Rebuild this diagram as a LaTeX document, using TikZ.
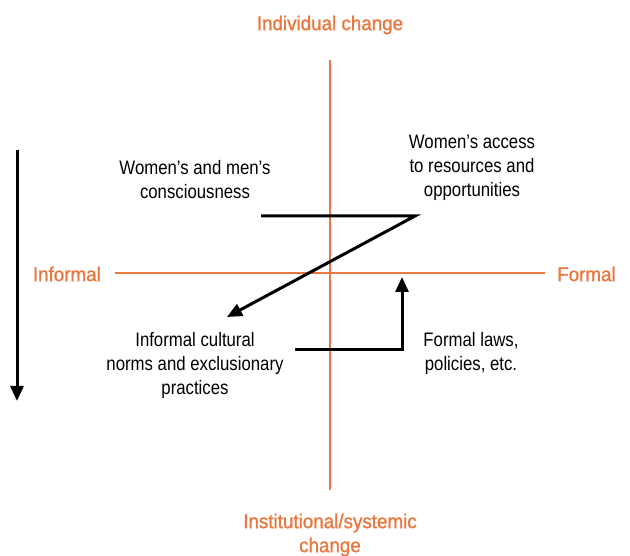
\documentclass[tikz,border=0pt]{standalone}
\usepackage{fontspec}
\setmainfont{Liberation Sans}
\newfontfamily\condfont[FakeStretch=0.86]{Liberation Sans}
\newfontfamily\condbold[FakeStretch=0.94,FakeBold=1.2]{Liberation Sans}
\usetikzlibrary{arrows.meta}
\definecolor{axisorange}{HTML}{E8783F}
\begin{document}
\begin{tikzpicture}[x=1pt,y=-1pt,
  axis/.style={draw=axisorange,line width=2.8pt},
  axislabel/.style={text=axisorange,font=\condbold\fontsize{20}{24}\selectfont,align=center,inner sep=0pt},
  body/.style={text=black,font=\condfont\fontsize{19.5}{24}\selectfont,align=center,inner sep=0pt},
  conn/.style={draw=black,line width=3pt},
  tip/.style={-{Triangle[length=15pt,width=13pt]}}
]
\useasboundingbox (0,0) rectangle (630,556);
% axes
\coordinate (vt) at (330,60);
\coordinate (vb) at (330,490);
\coordinate (hl) at (115,273);
\coordinate (hr) at (545,273);
\draw[axis] (vt) -- (vb);
\draw[axis] (hl) -- (hr);
% axis labels
\node[axislabel] (top) at (330,25) {Individual change};
\node[axislabel] (bot) at (330,535) {Institutional/systemic\\change};
\node[axislabel,anchor=east] (left) at (101,274) {Informal};
\node[axislabel,anchor=west] (right) at (557,274) {Formal};
% quadrant texts
\node[body] (q1) at (195,180) {Women’s and men’s\\consciousness};
\node[body] (q2) at (472,168) {Women’s access\\to resources and\\opportunities};
\node[body] (q3) at (195,365) {Informal cultural\\norms and exclusionary\\practices};
\node[body] (q4) at (471,353) {Formal laws,\\policies, etc.};
% side arrow
\coordinate (s1) at (17,150);
\coordinate (s2) at (17,401);
\draw[conn,tip] (s1) -- (s2);
% Z arrow
\coordinate (z1) at (261,216);
\coordinate (z2) at (415,216);
\coordinate (z3) at (227,317);
\draw[conn,tip,line join=miter] (z1) -- (z2) -- (z3);
% bracket arrow
\coordinate (b1) at (295,350);
\coordinate (b2) at (402,350);
\coordinate (b3) at (402,277);
\draw[conn,tip] (b1) -- (b2) -- (b3);
\end{tikzpicture}
\end{document}
